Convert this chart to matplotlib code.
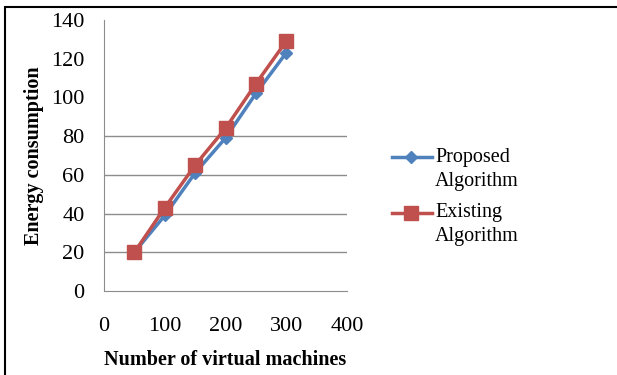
import matplotlib.pyplot as plt
from matplotlib.patches import Rectangle
from matplotlib.lines import Line2D

vms = [50, 100, 150, 200, 250, 300]
proposed = [20, 39, 61, 79, 102, 123]
existing = [20, 43, 65, 84, 107, 129]
y_ticks = [0, 20, 40, 60, 80, 100, 120, 140]
x_ticks = [0, 100, 200, 300, 400]
grid_levels = [20, 40, 60, 80]  # only these gridlines survive in the scan
series_names = [('Proposed', 'Algorithm'), ('Existing', 'Algorithm')]
blue, red = '#4F81BD', '#C0504D'

plt.rcParams['font.family'] = ['Liberation Serif', 'DejaVu Serif']

fig = plt.figure(figsize=(6.17, 3.75), dpi=100)
ax = fig.add_axes([0.1686, 0.224, 0.3938, 0.723])

# frame around the whole chart
fig.patches.append(Rectangle((0.008, -0.01), 1.1, 0.992, transform=fig.transFigure,
                             fill=False, edgecolor='black', linewidth=1.5))

for g in grid_levels:
    ax.axhline(g, color='#8c8c8c', linewidth=1, zorder=0)

ax.plot(vms, proposed, color=blue, marker='D', markersize=6, linewidth=2.5)
ax.plot(vms, existing, color=red, marker='s', markersize=10, linewidth=2.5)

ax.set_xlim(0, 400)
ax.set_ylim(0, 140)
ax.set_xticks(x_ticks)
ax.set_yticks(y_ticks)
ax.tick_params(length=0, labelsize=16)
ax.tick_params(axis='y', pad=14)
ax.tick_params(axis='x', pad=19)
for s in ['top', 'right']:
    ax.spines[s].set_visible(False)
for s in ['left', 'bottom']:
    ax.spines[s].set_color('#8c8c8c')

ax.set_xlabel('Number of virtual machines', fontsize=14.5, fontweight='bold', labelpad=10)
ax.set_ylabel('Energy consumption', fontsize=14.5, fontweight='bold', labelpad=5)

# legend drawn by hand: handle sits on the first text line, like the Excel original
legend_rows = [(1 - 157 / 375, blue, 'D', 6), (1 - 213 / 375, red, 's', 10)]
for (y, c, m, ms), (l1, l2) in zip(legend_rows, series_names):
    fig.add_artist(Line2D([392 / 617, 432 / 617], [y, y], color=c, linewidth=2.5))
    fig.add_artist(Line2D([411 / 617], [y], color=c, marker=m, markersize=ms))
    fig.text(435 / 617, y, l1, fontsize=14.5, va='center', ha='left')
    fig.text(435 / 617, y - 24 / 375, l2, fontsize=14.5, va='center', ha='left')

fig.savefig('out.png', dpi=100)
